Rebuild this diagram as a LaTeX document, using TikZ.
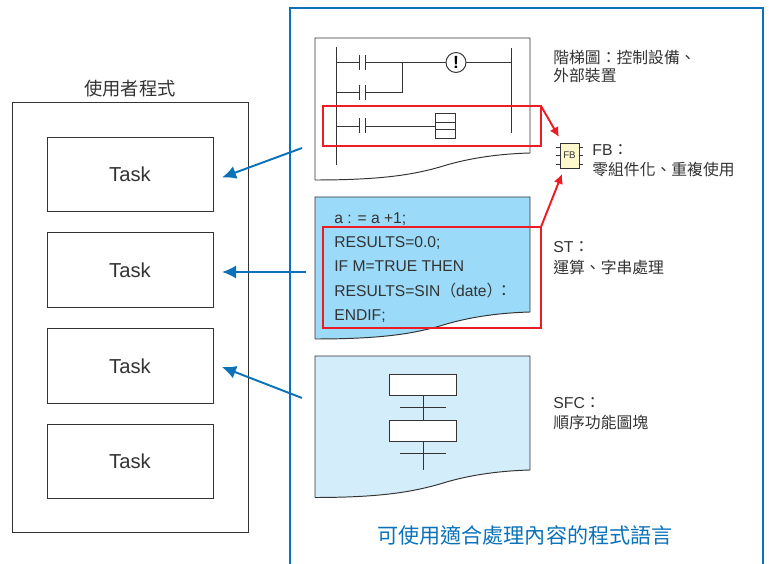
\documentclass[tikz,border=0pt]{standalone}
\usepackage{fontspec}
\setmainfont{Liberation Sans}
\newfontfamily\cjk{Noto Sans CJK TC}
\usetikzlibrary{arrows.meta}
\definecolor{frame-blue}{HTML}{0B72B9}
\definecolor{signal-red}{HTML}{ED1C24}
\definecolor{panel-st}{HTML}{9BDAF8}
\definecolor{panel-sfc}{HTML}{D3EDFB}
\definecolor{chip-fill}{HTML}{FFF8CC}
\colorlet{label-gray}{black!80}
\tikzset{
  thin-line/.style={line width=0.55pt, draw=black!80},
  task-box/.style={thin-line, minimum width=3.32cm, minimum height=1.49cm, outer sep=0pt, inner sep=0pt, font=\fontsize{11.5}{14}\selectfont, text=label-gray},
  red-frame/.style={draw=signal-red, line width=1.1pt, minimum width=4.36cm, outer sep=0pt, inner sep=0pt},
  red-path/.style={draw=signal-red, line width=1.1pt, -{Latex[length=5.5pt,width=5.5pt]}},
  flow-path/.style={draw=frame-blue, line width=1.1pt, -{Latex[length=8pt,width=7.5pt]}},
  side-label/.style={anchor=north west, align=left, inner sep=0pt, text=label-gray, font=\fontsize{9}{10.5}\selectfont},
  sfc-step/.style={thin-line, fill=white, minimum width=1.34cm, minimum height=0.42cm, outer sep=0pt, inner sep=0pt},
}
% sheet with a torn lower edge: top, bottom at the right, bottom at the left
\newcommand{\tikzsheet}[4]{%
\fill[#1] (315,#2) -- (530,#2) -- (530,#3) .. controls (495,#3+1) and (465,#3+6) .. (440,#3+14) .. controls (415,#3+21) and (385,#4) .. (315,#4) -- cycle;
\draw[thin-line] (315,#4) -- (315,#2) -- (530,#2) -- (530,#3) .. controls (495,#3+1) and (465,#3+6) .. (440,#3+14) .. controls (415,#3+21) and (385,#4) .. (315,#4);
}
\begin{document}
\begin{tikzpicture}[x=0.02cm, y=-0.02cm]
\useasboundingbox (0,0) rectangle (769,564);
% right frame, open at the bottom
\draw[frame-blue, line width=1.1pt] (290,564) -- (290,8) -- (763,8) -- (763,564);
% program
\node[thin-line, draw, minimum width=4.74cm, minimum height=8.62cm, outer sep=0pt] (program) at (130.5,317.5) {};
\node[anchor=south, inner sep=0pt, text=label-gray, font=\cjk\fontsize{10.4}{12}\selectfont] (program-title) at (130,97) {使用者程式};
\foreach \name/\ypos in {task-a/174.5, task-b/270, task-c/366, task-d/461.5} {
  \node[task-box, draw] (\name) at (130,\ypos) {Task};
}
% ladder
\tikzsheet{white}{38}{153}{180}
\draw[thin-line] (336,47) -- (336,165);
\draw[thin-line] (511,48) -- (511,133);
\node[draw=black!80, line width=0.55pt, circle, minimum size=0.4cm, inner sep=0pt, outer sep=0pt, font=\fontsize{10}{10}\bfseries\selectfont] (lamp) at (456,62.5) {!};
\foreach \ypos in {62.5,92.5,126} {
  \draw[thin-line] (336,\ypos) -- (359,\ypos) (365,\ypos) -- (380,\ypos);
  \draw[thin-line] (359,\ypos-7.5) -- (359,\ypos+7.5) (365,\ypos-7.5) -- (365,\ypos+7.5);
}
\draw[thin-line] (380,62.5) -- (lamp) (lamp) -- (511,62.5);
\draw[thin-line] (380,92.5) -- (402,92.5) -- (402,62.5);
\draw[thin-line] (380,126) -- (435,126);
\draw[thin-line] (435,113) rectangle (455,138);
\draw[thin-line] (435,122) -- (455,122) (435,129.5) -- (455,129.5);
% structured text
\tikzsheet{panel-st}{197}{312}{339}
\node[anchor=north west, align=left, inner sep=0pt, text=label-gray, font=\fontsize{8.9}{13.85}\selectfont] (st-code) at (334,212) {a : = a +1;\\RESULTS=0.0;\\IF M=TRUE THEN\\RESULTS=SIN{\cjk（}date{\cjk）}\kern-3.5pt{\cjk：}\\ENDIF;};
% sfc
\tikzsheet{panel-sfc}{356}{470}{497.5}
\node[sfc-step, draw] (step-a) at (423,384.5) {};
\node[sfc-step, draw] (step-b) at (423,430.5) {};
\coordinate (sfc-end) at (423,470);
\draw[thin-line] (step-a) -- (step-b);
\draw[thin-line] (step-b) -- (sfc-end);
\draw[thin-line] (400,407) -- (446,407) (400,453) -- (446,453);
% red frames
\node[red-frame, draw, minimum height=0.8cm] (ladder-frame) at (432,126) {};
\node[red-frame, draw, minimum height=2.02cm] (st-frame) at (432,277.5) {};
% function block
\node[draw=black!80, line width=0.55pt, fill=chip-fill, minimum width=0.38cm, minimum height=0.5cm, outer sep=0pt, inner sep=0pt, text=label-gray, font=\fontsize{5.5}{6}\selectfont] (fb-chip) at (569.5,155.5) {FB};
\foreach \ypos in {147,155.5,164} {
  \draw[thin-line] (556,\ypos) -- (560,\ypos) (579,\ypos) -- (583,\ypos);
}
\draw[red-path] (ladder-frame.north east) -- ([shift={(-1,-6)}]fb-chip.north west);
\draw[red-path] (st-frame.north east) -- ([shift={(2,6)}]fb-chip.south west);
% arrows to the tasks
\coordinate (ladder-out) at (302,148);
\coordinate (st-out) at (306,272);
\coordinate (sfc-out) at (302,398);
\draw[flow-path] (ladder-out) -- ([shift={(9,3)}]task-a.east);
\draw[flow-path] (st-out) -- ([shift={(9,2)}]task-b.east);
\draw[flow-path] (sfc-out) -- ([shift={(9,1)}]task-c.east);
% labels
\node[side-label] (ladder-label) at (553,50) {\cjk 階梯圖：控制設備、\\[-0.5pt]\cjk 外部裝置};
\node[side-label] (fb-label) at (592,144) {FB{\cjk：}\\[1pt]\cjk 零組件化、重複使用};
\node[side-label] (st-label) at (553,241.5) {ST{\cjk：}\\[1pt]\cjk 運算、字串處理};
\node[side-label] (sfc-label) at (553,397.5) {SFC{\cjk：}\\[0.5pt]\cjk 順序功能圖塊};
\node[inner sep=0pt, text=frame-blue, font=\cjk\fontsize{12}{14}\selectfont] (language-label) at (525,535) {可使用適合處理內容的程式語言};
\end{tikzpicture}
\end{document}
